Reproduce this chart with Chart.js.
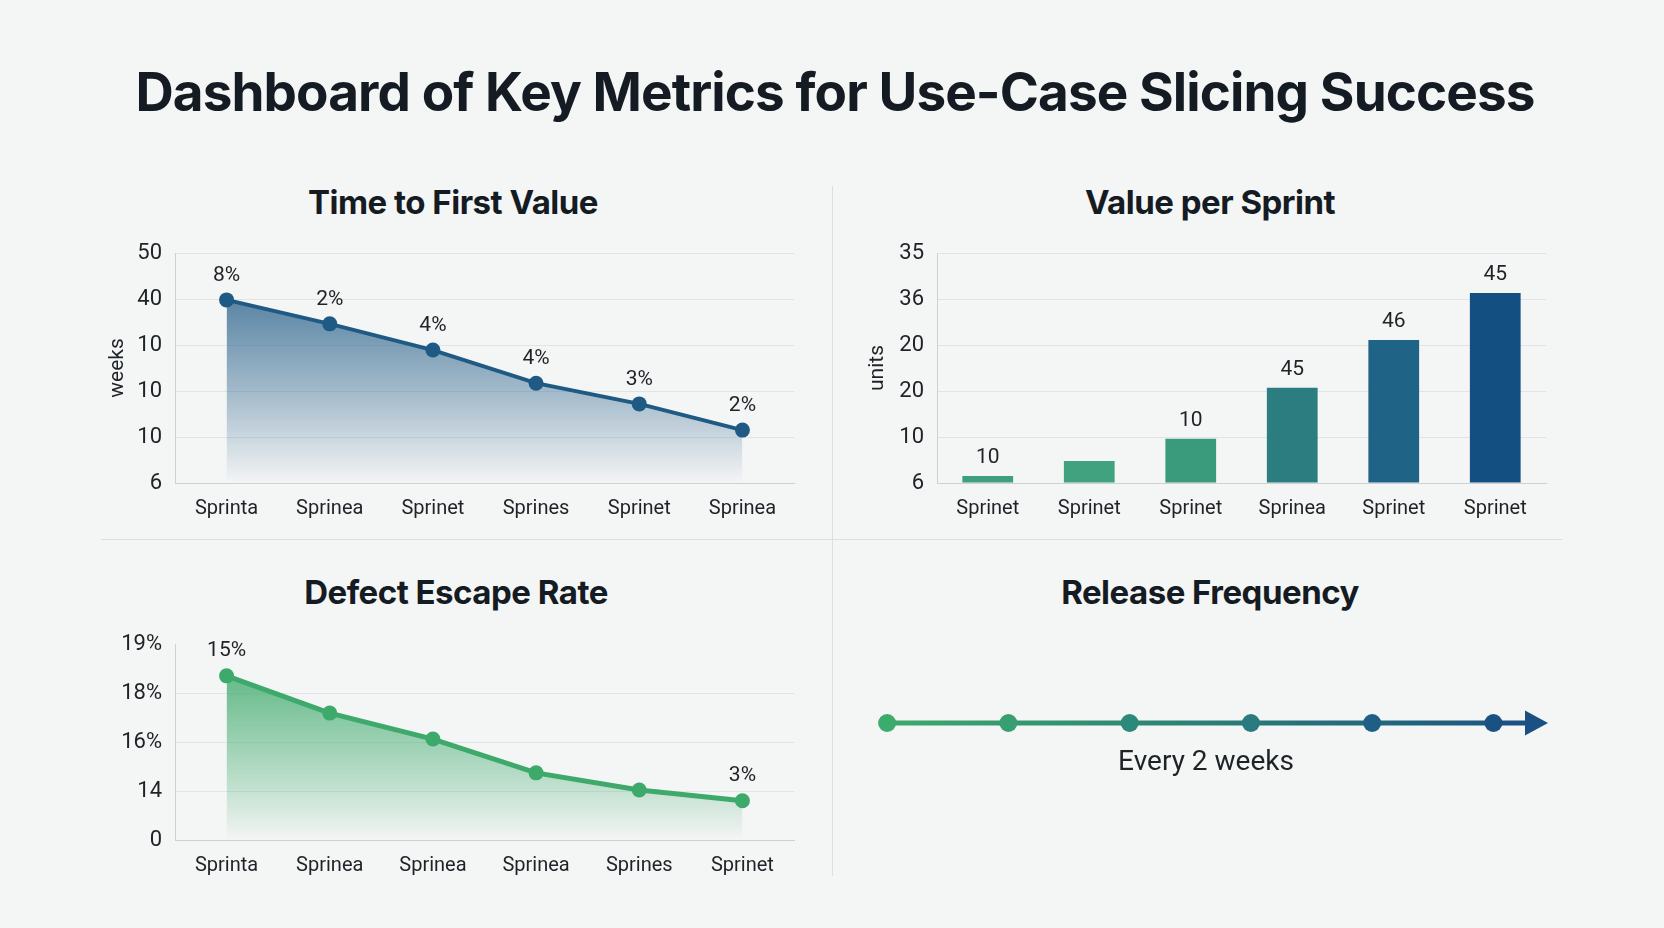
<!DOCTYPE html>
<html>
<head>
<meta charset="utf-8">
<script src="https://cdn.jsdelivr.net/npm/chart.js@4.4.0/dist/chart.umd.min.js"></script>
<style>
    body { margin: 0; width: 1664px; height: 928px; background: #f4f5f5; position: relative; overflow: hidden; font-family: Roboto, sans-serif; }
    .main-title { position: absolute; left: 0; top: 66px; width: 1670px; text-align: center; font: 700 53px/1 Inter, sans-serif; letter-spacing: -0.9px; color: #141b23; }
    .panel-title { position: absolute; width: 600px; text-align: center; font: 700 33px/1 Inter, sans-serif; letter-spacing: -0.5px; color: #141b23; }
    .box { position: absolute; }
    .vline { position: absolute; left: 832px; top: 186px; width: 1px; height: 690px; background: #dcdfe1; }
    .hline { position: absolute; left: 101px; top: 539px; width: 1461px; height: 1px; background: #dcdfe1; }
    .note { position: absolute; left: 1006px; top: 747px; width: 400px; text-align: center; font: 400 28px/1 Roboto, sans-serif; color: #1e2328; }
</style>
</head>
<body>
<div class="main-title">Dashboard of Key Metrics for Use-Case Slicing Success</div>
<div class="vline"></div>
<div class="hline"></div>

<div class="panel-title" style="left:153px; top:186px;">Time to First Value</div>
<div class="panel-title" style="left:910px; top:186px;">Value per Sprint</div>
<div class="panel-title" style="left:156px; top:576px;">Defect Escape Rate</div>
<div class="panel-title" style="left:910px; top:576px;">Release Frequency</div>

<div class="box" style="left:90px; top:225px; width:720px; height:310px;"><canvas id="timeChart"></canvas></div>
<div class="box" style="left:850px; top:225px; width:712px; height:310px;"><canvas id="valueChart"></canvas></div>
<div class="box" style="left:90px; top:616px; width:720px; height:276px;"><canvas id="defectChart"></canvas></div>
<div class="box" style="left:875px; top:640px; width:673px; height:166px;"><canvas id="releaseChart"></canvas></div>
<div class="note">Every 2 weeks</div>

<script>
// Time to First Value
const timeSprints = ['Sprinta', 'Sprinea', 'Sprinet', 'Sprines', 'Sprinet', 'Sprinea'];
const timeValues = [3.98, 3.46, 2.89, 2.17, 1.72, 1.15];
const timeLabels = ['8%', '2%', '4%', '4%', '3%', '2%'];
const timeTicks = ['6', '10', '10', '10', '40', '50'];

// Value per Sprint
const valueSprints = ['Sprinet', 'Sprinet', 'Sprinet', 'Sprinea', 'Sprinet', 'Sprinet'];
const valueValues = [0.15, 0.48, 0.96, 2.07, 3.11, 4.13];
const valueLabels = ['10', '', '10', '45', '46', '45'];
const valueTicks = ['6', '10', '20', '20', '36', '35'];
const valueColors = ['#3d9f7b', '#41a27f', '#3a9a7c', '#2b7d80', '#1f6386', '#134f80'];

// Defect Escape Rate
const defectSprints = ['Sprinta', 'Sprinea', 'Sprinea', 'Sprinea', 'Sprines', 'Sprinet'];
const defectValues = [3.35, 2.59, 2.06, 1.37, 1.02, 0.80];
const defectLabels = ['15%', '', '', '', '', '3%'];
const defectTicks = ['0', '14', '16%', '18%', '19%'];

// Release Frequency
const releaseWeeks = [0, 2, 4, 6, 8, 10];
const releaseColors = ['#3dab6b', '#379f71', '#2d8a7b', '#2a7b80', '#1f5f85', '#1a5182'];

Chart.defaults.font.family = 'Roboto, sans-serif';
Chart.defaults.color = '#1e2328';
Chart.defaults.animation = false;

const gridColor = '#e1e4e6';
const axisColor = '#cdd1d4';

// text above each point / bar
const pointLabels = {
    id: 'pointLabels',
    afterDatasetsDraw: (chart, args, opts) => {
        if (!opts.labels) return;
        const ctx = chart.ctx;
        ctx.save();
        ctx.font = '21px Roboto, sans-serif';
        ctx.fillStyle = '#1e2328';
        ctx.textAlign = 'center';
        ctx.textBaseline = 'middle';
        chart.getDatasetMeta(0).data.forEach((el, i) => {
            if (opts.labels[i]) ctx.fillText(opts.labels[i], el.x, el.y - opts.offset);
        });
        ctx.restore();
    }
};
Chart.register(pointLabels);

const fadeFill = (r, g, b) => (c) => {
    const { ctx, chartArea } = c.chart;
    if (!chartArea) return 'rgba(0,0,0,0)';
    const grad = ctx.createLinearGradient(0, chartArea.top + 40, 0, chartArea.bottom);
    grad.addColorStop(0, `rgba(${r},${g},${b},0.75)`);
    grad.addColorStop(0.6, `rgba(${r},${g},${b},0.32)`);
    grad.addColorStop(1, `rgba(${r},${g},${b},0)`);
    return grad;
};

const makeScales = (ticks, yWidth, axisTitle, hideTop) => ({
    x: {
        offset: true,
        grid: { display: false },
        border: { display: true, color: axisColor },
        ticks: { font: { size: 20 }, padding: 6, color: '#1e2328' },
        afterFit: (scale) => { scale.height = 52; }
    },
    y: {
        min: 0,
        max: ticks.length - 1,
        grid: {
            drawTicks: false,
            color: (c) => (hideTop && c.tick && c.tick.value === ticks.length - 1) ? 'rgba(0,0,0,0)' : gridColor
        },
        border: { display: true, color: axisColor },
        ticks: { stepSize: 1, padding: 13, font: { size: 22 }, color: '#1e2328', callback: (v) => ticks[v] },
        title: { display: !!axisTitle, text: axisTitle, font: { size: 21 }, color: '#1e2328', padding: { top: 15, bottom: 0 } },
        afterFit: (scale) => { scale.width = yWidth; }
    }
});

const baseOptions = (scales, labels, offset, padding) => ({
    responsive: true,
    maintainAspectRatio: false,
    layout: { padding: padding },
    plugins: {
        legend: { display: false },
        tooltip: { enabled: false },
        pointLabels: { labels: labels, offset: offset }
    },
    scales: scales
});

new Chart(document.getElementById('timeChart'), {
    type: 'line',
    data: {
        labels: timeSprints,
        datasets: [{
            data: timeValues,
            borderColor: '#1f5a85',
            borderWidth: 4,
            pointRadius: 7.5,
            pointBackgroundColor: '#1f5a85',
            pointBorderWidth: 0,
            fill: 'origin',
            backgroundColor: fadeFill(31, 90, 133),
            tension: 0
        }]
    },
    options: baseOptions(makeScales(timeTicks, 85, 'weeks', false), timeLabels, 24, { top: 28, right: 16 })
});

new Chart(document.getElementById('valueChart'), {
    type: 'bar',
    data: {
        labels: valueSprints,
        datasets: [{
            data: valueValues,
            backgroundColor: valueColors,
            barPercentage: 0.5,
            categoryPercentage: 1
        }]
    },
    options: baseOptions(makeScales(valueTicks, 87, 'units', false), valueLabels, 18, { top: 28, right: 16 })
});

new Chart(document.getElementById('defectChart'), {
    type: 'line',
    data: {
        labels: defectSprints,
        datasets: [{
            data: defectValues,
            borderColor: '#3daa6b',
            borderWidth: 5,
            pointRadius: 7.5,
            pointBackgroundColor: '#3daa6b',
            pointBorderWidth: 0,
            fill: 'origin',
            backgroundColor: fadeFill(61, 170, 107),
            tension: 0
        }]
    },
    options: baseOptions(makeScales(defectTicks, 85, '', true), defectLabels, 25, { top: 28, right: 16 })
});

// arrow head at the right end of the timeline
const arrowHead = {
    id: 'arrowHead',
    afterDatasetsDraw: (chart) => {
        const meta = chart.getDatasetMeta(0);
        const last = meta.data[meta.data.length - 1];
        const tip = chart.chartArea.right;
        const ctx = chart.ctx;
        ctx.save();
        ctx.strokeStyle = '#1a5182';
        ctx.lineWidth = 5;
        ctx.beginPath();
        ctx.moveTo(last.x, last.y);
        ctx.lineTo(tip - 20, last.y);
        ctx.stroke();
        ctx.fillStyle = '#1a5182';
        ctx.beginPath();
        ctx.moveTo(tip, last.y);
        ctx.lineTo(tip - 23, last.y - 12.5);
        ctx.lineTo(tip - 23, last.y + 12.5);
        ctx.closePath();
        ctx.fill();
        ctx.restore();
    }
};

new Chart(document.getElementById('releaseChart'), {
    type: 'line',
    data: {
        datasets: [{
            data: releaseWeeks.map((w) => ({ x: w, y: 0 })),
            borderColor: (c) => {
                const { ctx, chartArea } = c.chart;
                if (!chartArea) return '#2a7b80';
                const grad = ctx.createLinearGradient(chartArea.left, 0, chartArea.right, 0);
                grad.addColorStop(0, '#3dab6b');
                grad.addColorStop(1, '#1a5182');
                return grad;
            },
            borderWidth: 5,
            pointRadius: 9,
            pointBackgroundColor: releaseColors,
            pointBorderWidth: 0
        }]
    },
    options: {
        responsive: true,
        maintainAspectRatio: false,
        layout: { autoPadding: false },
        plugins: { legend: { display: false }, tooltip: { enabled: false } },
        scales: {
            x: { type: 'linear', min: -0.2, max: 10.9, display: false },
            y: { min: -1, max: 1, display: false }
        }
    },
    plugins: [arrowHead]
});
</script>
</body>
</html>
